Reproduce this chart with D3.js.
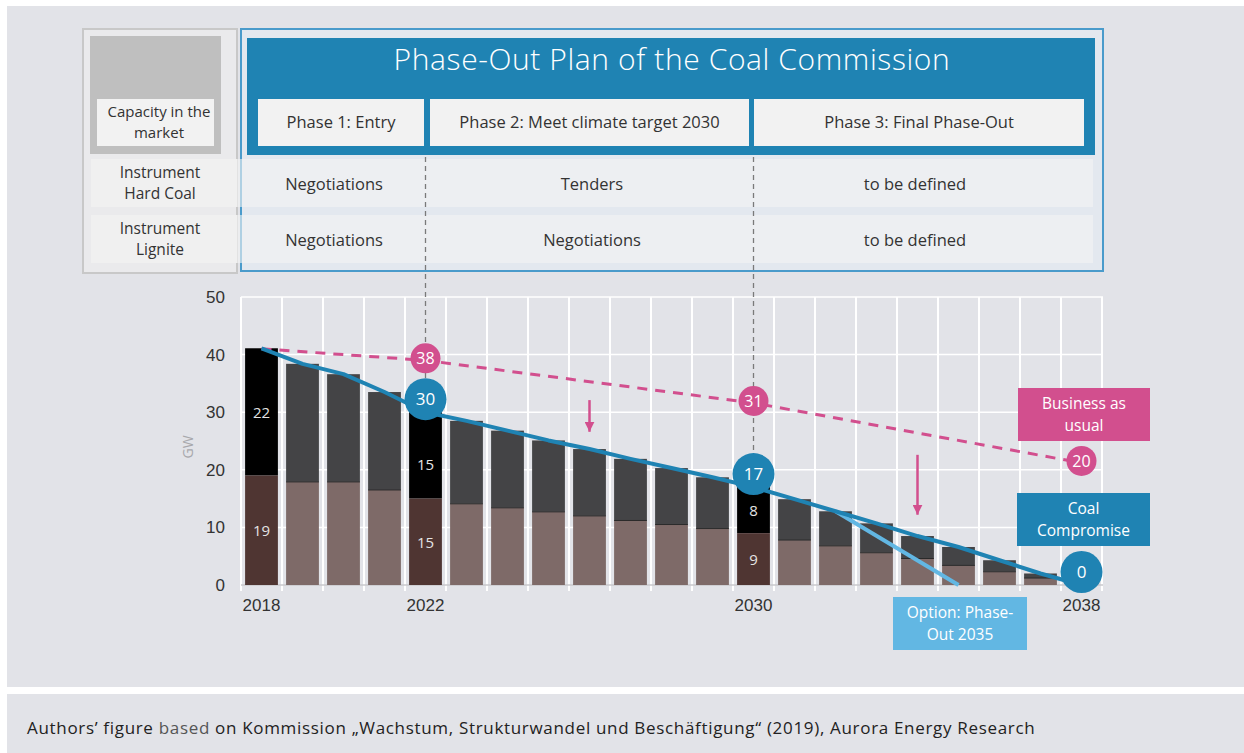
<!DOCTYPE html>
<html lang="en">
<head>
<meta charset="UTF-8">
<title>Phase-Out Plan of the Coal Commission</title>
<script src="https://d3js.org/d3.v7.min.js"></script>
<style>
    body { margin: 0; background: #ffffff; font-family: 'Open Sans', 'DejaVu Sans', sans-serif; }
    svg { display: block; }
    .cell { font-size: 16.5px; fill: #333; text-anchor: middle; }
    .tick-label { font-size: 17px; fill: #333; }
</style>
</head>
<body>
<svg id="chart" width="1244" height="753"></svg>
<script>
    // --- data ---
    const years = d3.range(2018, 2039);
    const totalGW   = [41.1, 38.4, 36.6, 33.5, 30, 28.5, 26.8, 25.1, 23.6, 21.9, 20.3, 18.7, 17, 14.9, 12.8, 10.7, 8.5, 6.6, 4.3, 2.0, 0];
    const ligniteGW = [19, 17.9, 17.9, 16.5, 15, 14.1, 13.4, 12.7, 12.0, 11.2, 10.5, 9.8, 9, 7.8, 6.8, 5.6, 4.6, 3.4, 2.3, 1.2, 0];
    const highlightYears = [2018, 2022, 2030];
    const xTickYears = [2018, 2022, 2030, 2038];
    const yTicks = [0, 10, 20, 30, 40, 50];

    const bauYears  = [2018, 2022, 2030, 2038];
    const bauValues = [41, 39, 31.6, 21.2];
    const bauLabels = ["", "38", "31", "20"];

    const compYears  = [2022, 2030, 2038];
    const compLabels = ["30", "17", "0"];

    const optionYears  = [2032, 2035];
    const optionValues = [12.8, 0];

    const arrows = [
        { year: 2026, from: 32.1, to: 26.6 },
        { year: 2034, from: 22.6, to: 12.2 }
    ];

    const phases = ["Phase 1: Entry", "Phase 2: Meet climate target 2030", "Phase 3: Final Phase-Out"];
    const hardCoalInstr = ["Negotiations", "Tenders", "to be defined"];
    const ligniteInstr  = ["Negotiations", "Negotiations", "to be defined"];

    const C = {
        bg: "#e2e3e8", blue: "#1f83b3", light: "#62b7e3", pink: "#d24f8e",
        hard: "#444446", hardHi: "#000000", lig: "#7e6a68", ligHi: "#4f3532"
    };

    const svg = d3.select("#chart");

    // two-line label helper
    function twoLines(g, cxPos, midY, lines, size, fill) {
        lines.forEach((t, j) => {
            g.append("text").attr("x", cxPos).attr("y", midY + (j - 0.5) * 21.5 + size * 0.36)
                .attr("text-anchor", "middle").attr("font-size", size).attr("fill", fill).text(t);
        });
    }

    // panels
    svg.append("rect").attr("x", 7).attr("y", 6).attr("width", 1237).attr("height", 681).attr("fill", C.bg);
    svg.append("rect").attr("x", 7).attr("y", 694).attr("width", 1237).attr("height", 59).attr("fill", C.bg);

    // --- table on top ---
    const table = svg.append("g");
    table.append("rect").attr("x", 83).attr("y", 29).attr("width", 154).attr("height", 244)
        .attr("fill", "#eaeaec").attr("stroke", "#c8c8c8").attr("stroke-width", 2);
    table.append("rect").attr("x", 90).attr("y", 36).attr("width", 131).attr("height", 118).attr("fill", "#bfbfbf");
    table.append("rect").attr("x", 97).attr("y", 99).attr("width", 117).attr("height", 47).attr("fill", "#f2f2f2");
    twoLines(table, 159, 122, ["Capacity in the", "market"], 15, "#333");

    table.append("rect").attr("x", 241).attr("y", 29).attr("width", 862).attr("height", 242)
        .attr("fill", "#e3e8ef").attr("stroke", "#4a9bcb").attr("stroke-width", 2);
    table.append("rect").attr("x", 247).attr("y", 38).attr("width", 848).attr("height", 117).attr("fill", C.blue);
    table.append("text").attr("x", 672).attr("y", 70).attr("text-anchor", "middle")
        .attr("fill", "#fff").attr("font-size", 30).attr("font-weight", 300).attr("letter-spacing", 0.6)
        .text("Phase-Out Plan of the Coal Commission");

    const phaseX = [[258, 424], [430, 749], [754, 1084]];
    const cellX = [334, 592, 915];
    phases.forEach((p, i) => {
        const [a, b] = phaseX[i];
        table.append("rect").attr("x", a).attr("y", 99).attr("width", b - a).attr("height", 47).attr("fill", "#f2f2f2");
        table.append("text").attr("class", "cell").attr("x", (a + b) / 2).attr("y", 128).text(p);
    });

    // instrument rows
    const rows = [
        { y: 159, label: ["Instrument", "Hard Coal"], cells: hardCoalInstr },
        { y: 215, label: ["Instrument", "Lignite"], cells: ligniteInstr }
    ];
    rows.forEach(r => {
        table.append("rect").attr("x", 91).attr("y", r.y).attr("width", 1002).attr("height", 48)
            .attr("fill", "#f4f4f4").attr("opacity", 0.6);
        table.append("rect").attr("x", 91).attr("y", r.y).attr("width", 146).attr("height", 48)
            .attr("fill", "#f0f0f0");
        twoLines(table, 160, r.y + 24, r.label, 15.5, "#333");
        r.cells.forEach((c, i) => {
            table.append("text").attr("class", "cell").attr("x", cellX[i]).attr("y", r.y + 31).text(c);
        });
    });

    // --- chart ---
    const x = d3.scaleBand().domain(years).range([241, 1102]).paddingInner(0.2).paddingOuter(0.1);
    const y = d3.scaleLinear().domain([0, 50]).range([585, 297]);
    const cx = d => x(d) + x.bandwidth() / 2;
    const step = x.step();
    const edge = d => x(d) - (step - x.bandwidth()) / 2;

    const grid = svg.append("g");
    grid.selectAll(".hg").data(yTicks.slice(1)).join("line")
        .attr("x1", 241).attr("x2", 1103).attr("y1", d => y(d)).attr("y2", d => y(d))
        .attr("stroke", "#fff").attr("stroke-width", 1.5);
    grid.selectAll(".vg").data(years.concat([2039])).join("line")
        .attr("x1", d => d === 2039 ? edge(2038) + step : edge(d))
        .attr("x2", d => d === 2039 ? edge(2038) + step : edge(d))
        .attr("y1", 297).attr("y2", 591)
        .attr("stroke", "#fff").attr("stroke-width", 2);
    grid.append("line").attr("x1", 241).attr("x2", 1103).attr("y1", y(0)).attr("y2", y(0))
        .attr("stroke", "#c9c9cc").attr("stroke-width", 1.5);

    // axes (labels only)
    const yAxis = d3.axisLeft(y).tickValues(yTicks).tickSize(0).tickPadding(4);
    const ga = svg.append("g").attr("transform", "translate(229,0)").call(yAxis);
    ga.select(".domain").remove();
    ga.selectAll("text").attr("class", "tick-label").attr("font-family", null).attr("font-size", null);

    const xAxis = d3.axisBottom(x).tickValues(xTickYears).tickSize(0).tickPadding(14);
    const gx = svg.append("g").attr("transform", `translate(0,${y(0)})`).call(xAxis);
    gx.select(".domain").remove();
    gx.selectAll("text").attr("class", "tick-label").attr("font-family", null).attr("font-size", null);

    svg.append("text").attr("transform", `translate(193,447) rotate(-90)`).attr("text-anchor", "middle")
        .attr("fill", "#a8a8ac").attr("font-size", 14).text("GW");

    // bars
    const bars = svg.append("g");
    years.forEach((yr, i) => {
        const hi = highlightYears.includes(yr);
        if (totalGW[i] <= 0) return;
        bars.append("rect").attr("x", x(yr)).attr("width", x.bandwidth())
            .attr("y", y(totalGW[i])).attr("height", y(ligniteGW[i]) - y(totalGW[i]))
            .attr("fill", hi ? C.hardHi : C.hard);
        bars.append("rect").attr("x", x(yr)).attr("width", x.bandwidth())
            .attr("y", y(ligniteGW[i])).attr("height", y(0) - y(ligniteGW[i]))
            .attr("fill", hi ? C.ligHi : C.lig);
        if (!hi) {
            bars.append("line").attr("x1", x(yr)).attr("x2", x(yr) + x.bandwidth())
                .attr("y1", y(ligniteGW[i])).attr("y2", y(ligniteGW[i]))
                .attr("stroke", "#2a2a2a").attr("stroke-width", 1);
        } else {
            const hard = Math.round(totalGW[i] - ligniteGW[i]);
            const lig = Math.round(ligniteGW[i]);
            bars.append("text").attr("x", cx(yr)).attr("y", (y(totalGW[i] - (yr === 2022 ? 3 : 0)) + y(ligniteGW[i])) / 2 + 6)
                .attr("text-anchor", "middle").attr("fill", "#e4e4e4").attr("font-size", 15).text(hard);
            bars.append("text").attr("x", cx(yr)).attr("y", (y(ligniteGW[i]) + y(0)) / 2 + 6)
                .attr("text-anchor", "middle").attr("fill", "#e4e4e4").attr("font-size", 15).text(lig);
        }
    });

    // vertical dashed phase markers
    [[2022, 395], [2030, 475]].forEach(([yr, y2]) => {
        svg.append("line").attr("x1", cx(yr)).attr("x2", cx(yr)).attr("y1", 157).attr("y2", y2)
            .attr("stroke", "#7a7a7a").attr("stroke-width", 1.3).attr("stroke-dasharray", "5,4");
    });

    // lines
    const line = d3.line().x(d => cx(d[0])).y(d => y(d[1]));
    svg.append("path").attr("d", line(bauYears.map((d, i) => [d, bauValues[i]])))
        .attr("fill", "none").attr("stroke", C.pink).attr("stroke-width", 3).attr("stroke-dasharray", "10,8");
    svg.append("path").attr("d", line(optionYears.map((d, i) => [d, optionValues[i]])))
        .attr("fill", "none").attr("stroke", C.light).attr("stroke-width", 4);
    svg.append("path").attr("d", line(years.map((d, i) => [d, totalGW[i]])))
        .attr("fill", "none").attr("stroke", C.blue).attr("stroke-width", 4).attr("stroke-linejoin", "round");

    // arrows
    svg.append("defs").append("marker").attr("id", "ah").attr("viewBox", "0 0 10 10")
        .attr("refX", 10).attr("refY", 5).attr("markerWidth", 4).attr("markerHeight", 4)
        .attr("markerUnits", "strokeWidth").attr("orient", "auto")
        .append("path").attr("d", "M0,0L10,5L0,10Z").attr("fill", C.pink);
    arrows.forEach(a => {
        svg.append("line").attr("x1", cx(a.year)).attr("x2", cx(a.year))
            .attr("y1", y(a.from)).attr("y2", y(a.to))
            .attr("stroke", C.pink).attr("stroke-width", 2.5).attr("marker-end", "url(#ah)");
    });

    // circles
    bauYears.forEach((yr, i) => {
        if (!bauLabels[i]) return;
        const g = svg.append("g").attr("transform", `translate(${cx(yr)},${y(bauValues[i]) - 2})`);
        g.append("circle").attr("r", 15).attr("fill", C.pink);
        g.append("text").attr("text-anchor", "middle").attr("y", 6).attr("fill", "#fff").attr("font-size", 16).text(bauLabels[i]);
    });
    compYears.forEach((yr, i) => {
        const v = totalGW[years.indexOf(yr)];
        const g = svg.append("g").attr("transform", `translate(${cx(yr)},${y(v) - 13})`);
        g.append("circle").attr("r", 21).attr("fill", C.blue);
        g.append("text").attr("text-anchor", "middle").attr("y", 6).attr("fill", "#fff").attr("font-size", 17).text(compLabels[i]);
    });

    // label boxes
    const boxes = [
        { x: 1018, y: 388, w: 132, h: 53, fill: C.pink, lines: ["Business as", "usual"] },
        { x: 1017, y: 493, w: 133, h: 53, fill: C.blue, lines: ["Coal", "Compromise"] },
        { x: 893, y: 597, w: 134, h: 53, fill: C.light, lines: ["Option: Phase-", "Out 2035"] }
    ];
    boxes.forEach(b => {
        svg.append("rect").attr("x", b.x).attr("y", b.y).attr("width", b.w).attr("height", b.h).attr("fill", b.fill);
        twoLines(svg, b.x + b.w / 2, b.y + b.h / 2, b.lines, 15.5, "#fff");
    });

    // caption
    const cap = svg.append("text").attr("x", 27).attr("y", 734).attr("fill", "#222")
        .attr("font-size", 17).attr("letter-spacing", 0.68);
    cap.append("tspan").text("Authors’ figure ");
    cap.append("tspan").attr("fill", "#555").text("based");
    cap.append("tspan").text(" on Kommission „Wachstum, Strukturwandel und Beschäftigung“ (2019), Aurora Energy Research");
</script>
</body>
</html>
